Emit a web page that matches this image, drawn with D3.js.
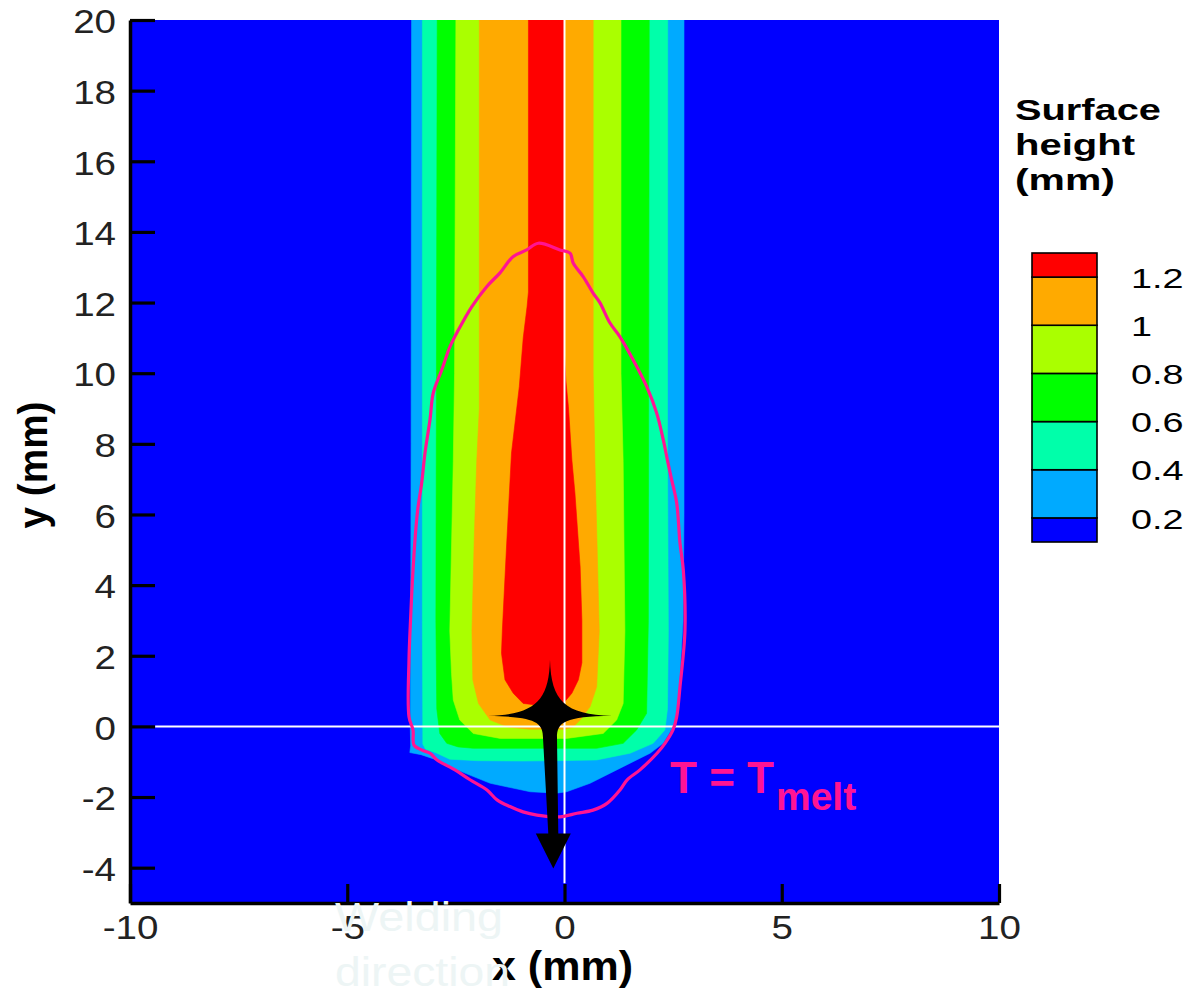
<!DOCTYPE html>
<html>
<head>
<meta charset="utf-8">
<script src="https://cdn.jsdelivr.net/npm/d3@7"></script>
<style>
  html, body { margin: 0; padding: 0; background: #fff; }
  svg { display: block; }
  text { font-family: "Liberation Sans", Arial, Helvetica, sans-serif; }
</style>
</head>
<body>
<svg id="chart" width="1193" height="988"></svg>
<script>
// ---- Surface height levels (mm) and fill colours ----
const levelValues = [0.2, 0.4, 0.6, 0.8, 1.0, 1.2];
const levelColors = ["#00aaff", "#00ffaa", "#00ff00", "#aaff00", "#ffaa00", "#ff0000"];
const baseColor = "#0000ff";

// Colour bar: band edges (mm) and the labels shown at the inner edges
const legendEdges = [0.1, 0.2, 0.4, 0.6, 0.8, 1.0, 1.2, 1.3];
const legendColors = ["#0000ff", "#00aaff", "#00ffaa", "#00ff00", "#aaff00", "#ffaa00", "#ff0000"];
const legendLabels = ["1.2", "1", "0.8", "0.6", "0.4", "0.2"];
const legendLabelValues = [1.2, 1.0, 0.8, 0.6, 0.4, 0.2];
const legendTitle = ["Surface", "height", "(mm)"];

// Regions where surface height >= level, outlines as [x, y] in mm
const contour02 = [[-3.52,20],[-3.53,8],[-3.54,3],[-3.55,0],[-3.54,-0.55],[-3.56,-0.74],[-3.30,-0.80],
  [-2.94,-0.95],[-2.48,-1.23],[-1.71,-1.61],[-0.79,-1.85],[-0.18,-1.89],[0.05,-1.85],[0.59,-1.61],
  [1.35,-1.14],[1.97,-0.76],[2.27,-0.48],[2.50,-0.01],[2.62,0.5],[2.66,1.5],[2.73,3.0],[2.75,6],[2.75,20]];
const contour04 = [[-3.27,20],[-3.27,3],[-3.26,-0.5],[-3.20,-0.64],[-2.95,-0.75],[-2.64,-0.93],[-2.0,-0.97],
  [-1.0,-0.98],[-0.2,-0.97],[0.74,-0.95],[1.51,-0.76],[2.04,-0.48],[2.31,-0.10],[2.37,0.5],[2.39,2.7],
  [2.37,8],[2.375,20]];
const contour06 = [[-2.93,20],[-2.96,3],[-2.94,0.5],[-2.87,-0.20],[-2.71,-0.48],[-2.45,-0.58],[-2.10,-0.62],
  [0.13,-0.62],[0.74,-0.62],[1.35,-0.48],[1.66,-0.10],[1.89,0.37],[1.93,3],[1.95,20]];
const contour08 = [[-2.50,20],[-2.53,10],[-2.56,7.5],[-2.64,2.7],[-2.60,1.5],[-2.56,0.75],[-2.41,0.18],
  [-2.10,-0.20],[-1.48,-0.34],[0.05,-0.34],[0.89,-0.20],[1.20,0.18],[1.35,0.65],[1.39,2.7],[1.35,7.5],
  [1.30,10],[1.30,20]];
const contour10 = [[-1.96,20],[-1.96,9],[-2.02,7.5],[-2.08,5.2],[-2.13,2.7],[-2.11,1.32],[-1.98,0.65],
  [-1.71,0.18],[-1.30,-0.02],[-0.80,-0.08],[0.00,-0.08],[0.20,-0.02],[0.36,0.18],[0.59,0.56],[0.74,1.12],
  [0.80,2.7],[0.70,7.5],[0.66,10],[0.66,20]];
const contour12 = [[-0.83,20],[-0.83,12.3],[-0.86,11.9],[-0.95,11.0],[-1.04,9.62],[-1.22,7.74],[-1.33,5.19],
  [-1.43,2.73],[-1.45,2.07],[-1.37,1.32],[-1.18,0.94],[-0.95,0.65],[-0.60,0.60],[-0.18,0.61],[-0.03,0.65],
  [0.17,0.94],[0.32,1.32],[0.40,1.8],[0.40,3.0],[0.36,4.51],[0.30,5.56],[0.24,6.61],[0.17,7.54],[0.09,9.05],
  [0.03,9.81],[0.00,10.5],[0.00,20]];
const levelContours = [contour02, contour04, contour06, contour08, contour10, contour12];

// Melting-temperature isotherm on the surface (mm)
const meltContour = [[-0.603,13.68],[-0.870,13.49],[-1.185,13.30],[-1.484,12.84],[-1.791,12.45],[-2.136,11.88],
  [-2.444,11.22],[-2.635,10.75],[-2.826,10.09],[-3.020,9.44],[-3.096,8.68],[-3.211,7.74],[-3.287,6.89],
  [-3.379,6.13],[-3.441,5.28],[-3.503,4.06],[-3.540,3.11],[-3.579,1.88],[-3.579,0.27],[-3.487,-0.10],
  [-3.464,-0.53],[-3.280,-0.67],[-3.096,-0.76],[-2.934,-0.95],[-2.520,-1.23],[-2.175,-1.51],[-1.784,-1.80],
  [-1.553,-2.08],[-1.254,-2.27],[-0.955,-2.42],[-0.633,-2.51],[-0.104,-2.56],[0.288,-2.46],[0.656,-2.37],
  [0.978,-2.18],[1.277,-1.80],[1.438,-1.52],[1.737,-1.23],[2.129,-0.76],[2.313,-0.48],[2.497,-0.10],
  [2.582,0.27],[2.658,1.12],[2.773,2.73],[2.734,4.43],[2.658,5.19],[2.582,6.33],[2.467,6.98],[2.382,7.46],
  [2.274,8.11],[2.122,8.87],[1.892,9.62],[1.583,10.37],[1.277,11.03],[1.047,11.42],[0.817,11.99],
  [0.663,12.26],[0.433,12.73],[0.203,13.11],[0.127,13.40],[-0.104,13.49]];
const meltLabel = { x: 2.43, y: -1.89, text: "T = T", sub: "melt" };

// Heat source marker and welding-direction arrow (mm)
const sourcePos = [-0.334, 0.30];
const arrowTip = [-0.258, -4.02];

// Reference lines through the origin (mm)
const guideH = { y: 0, x0: -9.42, x1: 10 };
const guideV = { x: 0, y0: -4.44, y1: 20 };

// Axes
const xDomain = [-10, 10];
const yDomain = [-5, 20];
const xTickValues = [-10, -5, 0, 5, 10];
const yTickValues = [-4, -2, 0, 2, 4, 6, 8, 10, 12, 14, 16, 18, 20];
const xMinorStep = 1;
const yMinorStep = 0.5;

// ---- Drawing ----
const svg = d3.select("#chart");
const plot = { left: 130, right: 999, top: 20, bottom: 903 };
const x = d3.scaleLinear(xDomain, [plot.left, plot.right]);
const y = d3.scaleLinear(yDomain, [plot.bottom, plot.top]);

function stretch(sel, k) {
  sel.each(function () {
    const w = this.getComputedTextLength();
    this.setAttribute("textLength", w * k);
    this.setAttribute("lengthAdjust", "spacingAndGlyphs");
  });
}

svg.append("defs").append("clipPath").attr("id", "plot-clip")
  .append("rect")
  .attr("x", plot.left).attr("y", plot.top)
  .attr("width", plot.right - plot.left).attr("height", plot.bottom - plot.top);

const field = svg.append("g").attr("clip-path", "url(#plot-clip)");

field.append("rect")
  .attr("x", plot.left).attr("y", plot.top)
  .attr("width", plot.right - plot.left).attr("height", plot.bottom - plot.top)
  .attr("fill", baseColor);

const area = d3.line().x(d => x(d[0])).y(d => y(d[1]));
const smoothLoop = d3.line().x(d => x(d[0])).y(d => y(d[1])).curve(d3.curveCatmullRomClosed.alpha(0.5));

field.selectAll("path.level")
  .data(levelContours)
  .join("path")
  .attr("class", "level")
  .attr("d", d => area(d) + "Z")
  .attr("fill", (d, i) => levelColors[i])
  .attr("stroke", (d, i) => levelColors[i])
  .attr("stroke-width", 0.6);

// White reference lines
field.append("line")
  .attr("x1", x(guideH.x0)).attr("x2", x(guideH.x1))
  .attr("y1", y(guideH.y)).attr("y2", y(guideH.y))
  .attr("stroke", "#ffffff").attr("stroke-width", 2);
field.append("line")
  .attr("x1", x(guideV.x)).attr("x2", x(guideV.x))
  .attr("y1", y(guideV.y0)).attr("y2", y(guideV.y1))
  .attr("stroke", "#ffffff").attr("stroke-width", 2);

// Melting isotherm
field.append("path")
  .attr("d", smoothLoop(meltContour))
  .attr("fill", "none")
  .attr("stroke", "#ff1493")
  .attr("stroke-width", 3.2)
  .attr("stroke-linejoin", "round");

// Heat source star with the welding-direction arrow
{
  const cx = x(sourcePos[0]), cy = y(sourcePos[1]);
  const tx = x(arrowTip[0]) - cx, ty = y(arrowTip[1]) - cy;
  const headLen = 35, headHalf = 17.5, shaftHalf = 5;
  const p = d3.path();
  p.moveTo(cx, cy - 56);
  p.bezierCurveTo(cx + 1, cy - 15, cx + 15, cy - 1, cx + 62, cy);
  p.bezierCurveTo(cx + 15, cy + 1, cx + 7, cy + 6, cx + 7, cy + 22);
  p.lineTo(cx + tx + shaftHalf, cy + ty - headLen);
  p.lineTo(cx + tx + headHalf, cy + ty - headLen);
  p.lineTo(cx + tx, cy + ty);
  p.lineTo(cx + tx - headHalf, cy + ty - headLen);
  p.lineTo(cx + tx - shaftHalf, cy + ty - headLen);
  p.lineTo(cx - 7, cy + 22);
  p.bezierCurveTo(cx - 7, cy + 6, cx - 15, cy + 1, cx - 62, cy);
  p.bezierCurveTo(cx - 15, cy - 1, cx - 1, cy - 15, cx, cy - 56);
  p.closePath();
  svg.append("path").attr("d", p.toString()).attr("fill", "#000");
}

// Isotherm label
{
  const t = svg.append("text")
    .attr("x", x(meltLabel.x)).attr("y", y(meltLabel.y))
    .attr("fill", "#ff1493")
    .attr("font-weight", "bold")
    .attr("font-size", 44)
    .text(meltLabel.text);
  t.append("tspan")
    .attr("dy", 17)
    .attr("dx", 2)
    .attr("font-size", 39)
    .text(meltLabel.sub);
}

// ---- Axes ----
const tickFont = 33.5;
const plainNumber = d => String(d);

const yMinor = d3.range(yDomain[0] + yMinorStep, yDomain[1] + 1e-9, yMinorStep)
  .filter(v => !yTickValues.includes(v));
const xMinor = d3.range(xDomain[0], xDomain[1] + 1e-9, xMinorStep)
  .filter(v => !xTickValues.includes(v));

const yAxisG = svg.append("g").attr("transform", `translate(${plot.left},0)`);
yAxisG.call(d3.axisLeft(y).tickValues(yMinor).tickSizeInner(-16).tickSizeOuter(0).tickFormat(""));
yAxisG.call(d3.axisLeft(y).tickValues(yTickValues).tickSizeInner(-25).tickSizeOuter(0)
  .tickPadding(14).tickFormat(plainNumber));

const xAxisG = svg.append("g").attr("transform", `translate(0,${plot.bottom})`);
xAxisG.call(d3.axisBottom(x).tickValues(xMinor).tickSizeInner(-10).tickSizeOuter(0).tickFormat(""));
xAxisG.call(d3.axisBottom(x).tickValues(xTickValues).tickSizeInner(-19).tickSizeOuter(0)
  .tickPadding(12).tickFormat(plainNumber));

[yAxisG, xAxisG].forEach(g => {
  g.selectAll(".domain").attr("stroke", "#000").attr("stroke-width", 3.5);
  g.selectAll(".tick line").attr("stroke", "#000").attr("stroke-width", 2);
  g.selectAll(".tick text")
    .attr("font-family", "'Liberation Sans', Arial, sans-serif")
    .attr("font-size", tickFont)
    .attr("fill", "#222");
});
// major ticks are heavier
yAxisG.selectAll(".tick").filter(d => yTickValues.includes(d)).select("line").attr("stroke-width", 3.2);
xAxisG.selectAll(".tick").filter(d => xTickValues.includes(d)).select("line").attr("stroke-width", 3.2);
yAxisG.selectAll(".tick text").attr("dy", "0.38em");
xAxisG.selectAll(".tick text").attr("dy", "0.71em");
stretch(yAxisG.selectAll(".tick text"), 1.15);
stretch(xAxisG.selectAll(".tick text"), 1.15);

// Axis titles
svg.append("text")
  .attr("transform", "translate(47,465) rotate(-90)")
  .attr("text-anchor", "middle")
  .attr("font-weight", "bold")
  .attr("font-size", 40)
  .attr("textLength", 127)
  .attr("lengthAdjust", "spacingAndGlyphs")
  .attr("fill", "#000")
  .text("y (mm)");

svg.append("text")
  .attr("x", 562.5).attr("y", 980)
  .attr("text-anchor", "middle")
  .attr("font-weight", "bold")
  .attr("font-size", 40)
  .attr("textLength", 141)
  .attr("lengthAdjust", "spacingAndGlyphs")
  .attr("fill", "#000")
  .text("x (mm)");

// Faint welding-direction caption below the axis
svg.append("text")
  .attr("x", 335).attr("y", 931)
  .attr("font-size", 40).attr("fill", "#edf5f5")
  .attr("textLength", 168).attr("lengthAdjust", "spacingAndGlyphs")
  .text("Welding");
svg.append("text")
  .attr("x", 335).attr("y", 986)
  .attr("font-size", 40).attr("fill", "#edf5f5")
  .attr("textLength", 175).attr("lengthAdjust", "spacingAndGlyphs")
  .text("direction");

// ---- Colour bar legend ----
const legend = { x0: 1032, x1: 1097 };
const ly = d3.scaleLinear([0.1, 1.3], [542, 253]);

const titleWidths = [146, 120, 100];
const titleBaselines = [120, 155, 190];
svg.append("g").selectAll("text")
  .data(legendTitle)
  .join("text")
  .attr("x", 1015)
  .attr("y", (d, i) => titleBaselines[i])
  .attr("font-weight", "bold")
  .attr("font-size", 30)
  .attr("textLength", (d, i) => titleWidths[i])
  .attr("lengthAdjust", "spacingAndGlyphs")
  .attr("fill", "#000")
  .text(d => d);

svg.append("g").selectAll("rect")
  .data(legendColors)
  .join("rect")
  .attr("x", legend.x0)
  .attr("width", legend.x1 - legend.x0)
  .attr("y", (d, i) => ly(legendEdges[i + 1]))
  .attr("height", (d, i) => ly(legendEdges[i]) - ly(legendEdges[i + 1]))
  .attr("fill", d => d)
  .attr("stroke", "#000")
  .attr("stroke-width", 1.6);

const legendText = svg.append("g").selectAll("text")
  .data(legendLabels)
  .join("text")
  .attr("x", 1131)
  .attr("y", (d, i) => ly(legendLabelValues[i]))
  .attr("dy", "0.38em")
  .attr("font-size", 28)
  .attr("fill", "#000")
  .text(d => d);
stretch(legendText, 1.35);
</script>
</body>
</html>
